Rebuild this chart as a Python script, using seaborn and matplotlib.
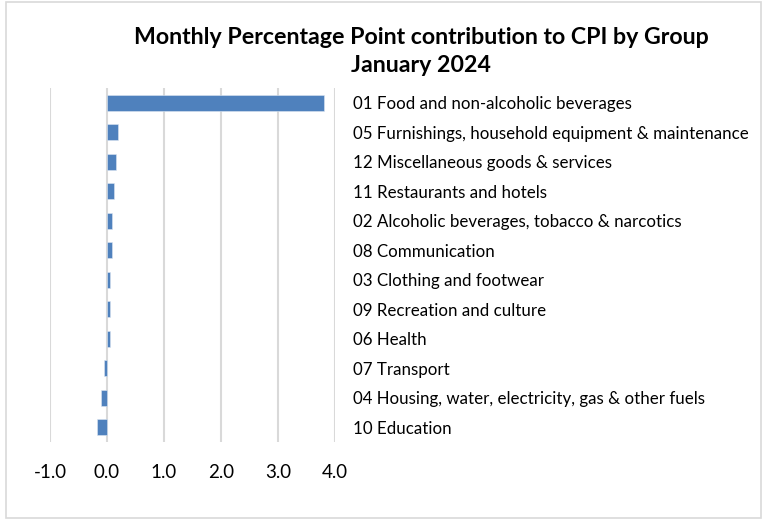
import matplotlib
matplotlib.use("Agg")
import matplotlib.pyplot as plt
import seaborn as sns
import pandas as pd

# Values (percentage points)
groups = [
    "01 Food and non-alcoholic beverages",
    "05 Furnishings, household equipment & maintenance",
    "12 Miscellaneous goods & services",
    "11 Restaurants and hotels",
    "02 Alcoholic beverages, tobacco & narcotics",
    "08 Communication",
    "03 Clothing and footwear",
    "09 Recreation and culture",
    "06 Health",
    "07 Transport",
    "04 Housing, water, electricity, gas & other fuels",
    "10 Education",
]
contribution = [3.80, 0.19, 0.16, 0.12, 0.09, 0.09, 0.05, 0.05, 0.05, -0.05, -0.11, -0.18]
x_ticks = [-1, 0, 1, 2, 3, 4]
x_tick_labels = ["-1.0", "0.0", "1.0", "2.0", "3.0", "4.0"]

df = pd.DataFrame({"group": groups, "value": contribution})

sns.set_theme(style="white")
plt.rcParams["font.family"] = ["Lato", "DejaVu Sans"]

fig = plt.figure(figsize=(7.71, 5.19), dpi=100)
ax = fig.add_axes([50 / 771, 1 - 442 / 519, 285 / 771, 354 / 519])

sns.barplot(data=df, x="value", y="group", orient="h", color="#4F81BD",
            saturation=1, width=0.55, edgecolor="#DCE6F2", linewidth=0.4, ax=ax)

ax.set_xlim(-1, 4)
ax.set_xticks(x_ticks)
ax.set_xticklabels(x_tick_labels, fontsize=13.5, color="#000000")
ax.tick_params(axis="x", length=0, pad=16)
ax.grid(axis="x", color="#D9D9D9", linewidth=1.5)
ax.set_axisbelow(True)

ax.yaxis.tick_right()
ax.tick_params(axis="y", length=0, pad=13, labelsize=12.2, labelcolor="#000000")
ax.set_xlabel("")
ax.set_ylabel("")
for s in ax.spines.values():
    s.set_visible(False)

fig.text(421 / 771, 1 - 37 / 519, "Monthly Percentage Point contribution to CPI by Group",
         ha="center", va="center", fontsize=16.7, fontweight="bold", color="#000000")
fig.text(421 / 771, 1 - 66 / 519, "January 2024",
         ha="center", va="center", fontsize=16.7, fontweight="bold", color="#000000")

# chart border
border = plt.Rectangle((6 / 771, 1 / 519), 755 / 771, 516 / 519, transform=fig.transFigure,
                       fill=False, edgecolor="#D9D9D9", linewidth=1.2)
fig.patches.append(border)

fig.savefig("out.png", dpi=100)
